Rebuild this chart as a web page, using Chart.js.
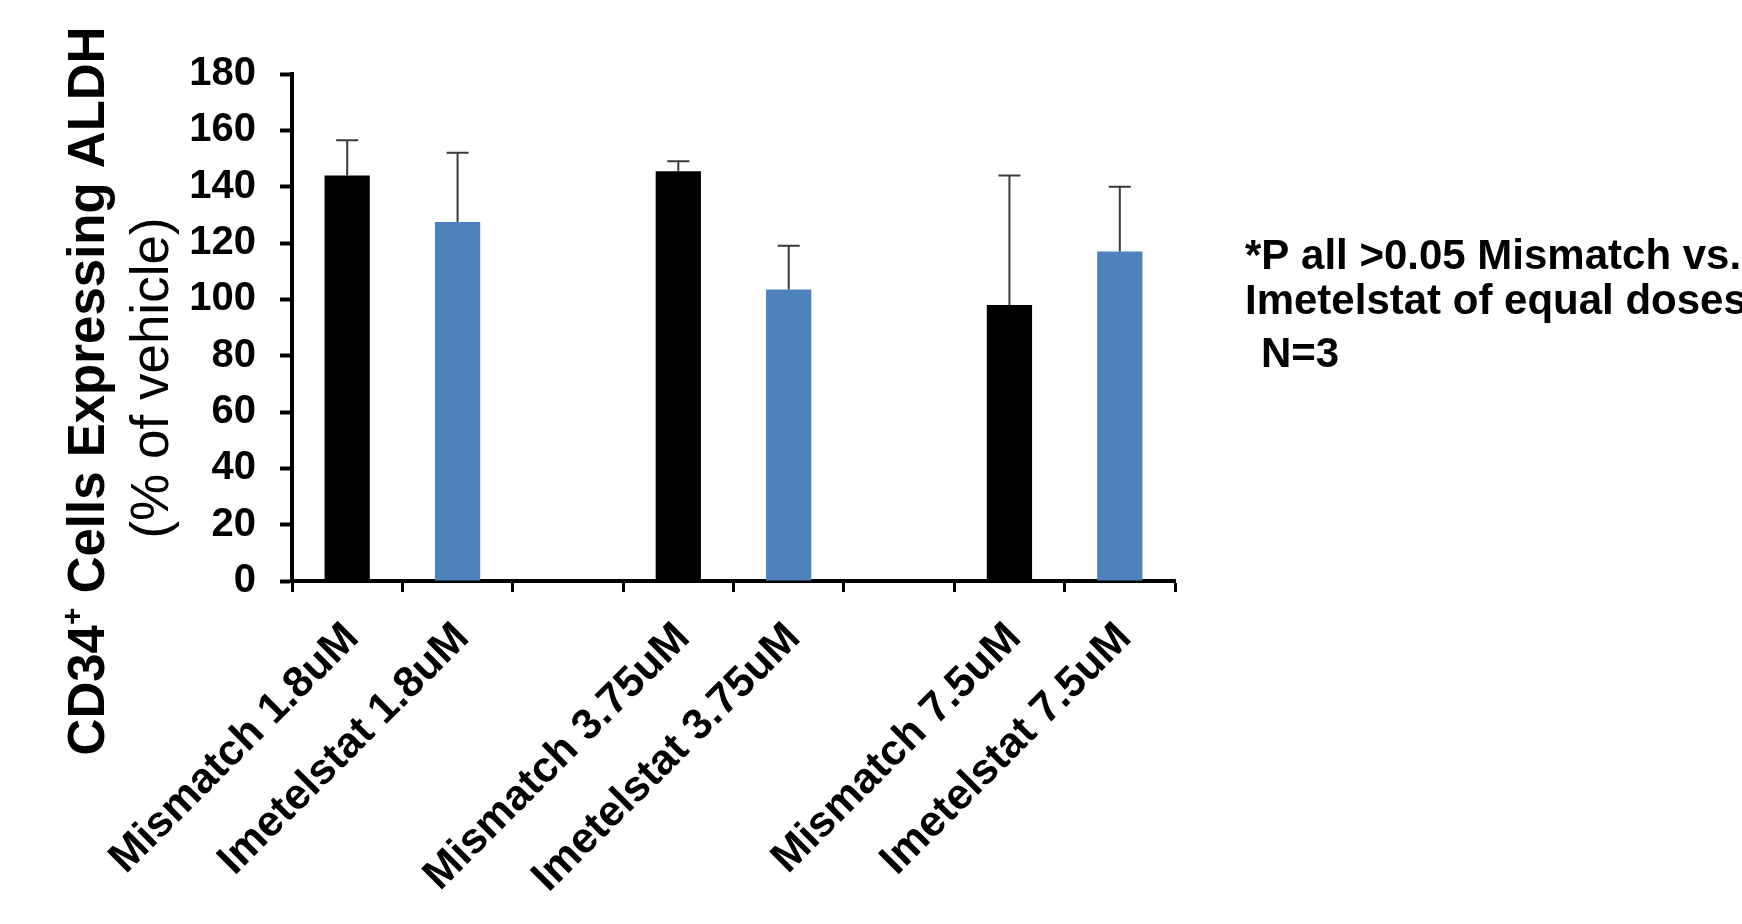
<!DOCTYPE html>
<html><head><meta charset="utf-8">
<script src="https://cdn.jsdelivr.net/npm/chart.js@4.4.1/dist/chart.umd.min.js"></script>
<style>html,body{margin:0;padding:0;background:#fff;}#wrap{width:1742px;height:924px;}</style>
</head><body><div id="wrap"><canvas id="c" width="1742" height="924"></canvas></div>
<script>
const categories = ["Mismatch 1.8uM", "Imetelstat 1.8uM", "", "Mismatch 3.75uM", "Imetelstat 3.75uM", "", "Mismatch 7.5uM", "Imetelstat 7.5uM"];
const meanValues = [144, 127.5, null, 145.5, 103.5, null, 98, 117];
const errorUpper = [156.5, 152, null, 149, 119, null, 144, 140];
const barColors = ["#000000", "#4F81BD", "#000000", "#000000", "#4F81BD", "#000000", "#000000", "#4F81BD"];
const yTickValues = [0, 20, 40, 60, 80, 100, 120, 140, 160, 180];
const yTitleMain = ["CD34", "+", " Cells Expressing ALDH"];
const yTitleSub = "(% of vehicle)";
const noteLines = ["*P all >0.05 Mismatch vs.", "Imetelstat of equal doses"];
const nNote = "N=3";

const FONT = '"Liberation Sans", Arial, sans-serif';

const errorBarPlugin = {
  id: 'errorBars',
  afterDatasetsDraw(chart) {
    const meta = chart.getDatasetMeta(0);
    const ys = chart.scales.y;
    const ctx = chart.ctx;
    ctx.save();
    ctx.strokeStyle = '#3a3a3a';
    ctx.lineWidth = 2;
    meta.data.forEach((bar, i) => {
      if (meanValues[i] == null || errorUpper[i] == null) return;
      const x = bar.x;
      const y0 = ys.getPixelForValue(meanValues[i]);
      const y1 = ys.getPixelForValue(errorUpper[i]);
      ctx.beginPath();
      ctx.moveTo(x, y0);
      ctx.lineTo(x, y1);
      ctx.moveTo(x - 11, y1);
      ctx.lineTo(x + 11, y1);
      ctx.stroke();
    });
    ctx.restore();
  }
};

const textPlugin = {
  id: 'texts',
  afterDraw(chart) {
    const ctx = chart.ctx;
    ctx.save();
    ctx.fillStyle = '#000';
    // y-axis title (two lines, rotated)
    ctx.save();
    ctx.translate(90, 391);
    ctx.rotate(-Math.PI / 2);
    ctx.textBaseline = 'middle';
    ctx.textAlign = 'left';
    const bigFont = 'bold 51px ' + FONT;
    const supFont = 'bold 30px ' + FONT;
    ctx.font = bigFont;
    const w1 = ctx.measureText(yTitleMain[0]).width;
    const w3 = ctx.measureText(yTitleMain[2]).width;
    ctx.font = supFont;
    const w2 = ctx.measureText(yTitleMain[1]).width;
    let x = -(w1 + w2 + w3) / 2;
    ctx.font = bigFont;
    ctx.fillText(yTitleMain[0], x, 0);
    x += w1;
    ctx.font = supFont;
    ctx.fillText(yTitleMain[1], x, -16);
    x += w2;
    ctx.font = bigFont;
    ctx.fillText(yTitleMain[2], x, 0);
    ctx.restore();

    ctx.save();
    ctx.translate(153, 378);
    ctx.rotate(-Math.PI / 2);
    ctx.textBaseline = 'middle';
    ctx.textAlign = 'center';
    ctx.font = '53px ' + FONT;
    ctx.fillText(yTitleSub, 0, 0);
    ctx.restore();

    // notes at right
    ctx.font = 'bold 42px ' + FONT;
    ctx.textAlign = 'left';
    ctx.textBaseline = 'middle';
    ctx.fillText(noteLines[0], 1245, 257);
    ctx.fillText(noteLines[1], 1245, 302);
    ctx.fillText(nNote, 1261, 355);
    ctx.restore();
  }
};

new Chart(document.getElementById('c'), {
  type: 'bar',
  data: {
    labels: categories,
    datasets: [{
      data: meanValues,
      backgroundColor: barColors,
      borderWidth: 0,
      categoryPercentage: 1,
      barPercentage: 0.41
    }]
  },
  options: {
    responsive: false,
    animation: false,
    devicePixelRatio: 1,
    layout: { padding: { left: 0, top: 74, right: 567, bottom: 0 } },
    plugins: { legend: { display: false }, tooltip: { enabled: false } },
    scales: {
      x: {
        type: 'category',
        offset: true,
        afterFit(scale) { scale.height = 343; },
        grid: { display: true, offset: true, drawOnChartArea: false, drawTicks: true, tickLength: 11, tickWidth: 3, tickColor: '#000', color: '#000' },
        border: { display: true, color: '#000', width: 4 },
        ticks: {
          autoSkip: false, maxRotation: 45, minRotation: 45, color: '#000', padding: 21, labelOffset: 5,
          font: { family: FONT, size: 43, weight: 'bold' }
        }
      },
      y: {
        min: 0, max: 180,
        afterFit(scale) { scale.width = 292; },
        afterBuildTicks(scale) { scale.ticks = yTickValues.map(v => ({ value: v })); },
        grid: { display: true, drawOnChartArea: false, drawTicks: true, tickLength: 12, tickWidth: 4, tickColor: '#000', color: '#000' },
        border: { display: true, color: '#000', width: 4 },
        ticks: { color: '#000', padding: 24, font: { family: FONT, size: 40, weight: 'bold' } }
      }
    }
  },
  plugins: [errorBarPlugin, textPlugin]
});
</script></body></html>
